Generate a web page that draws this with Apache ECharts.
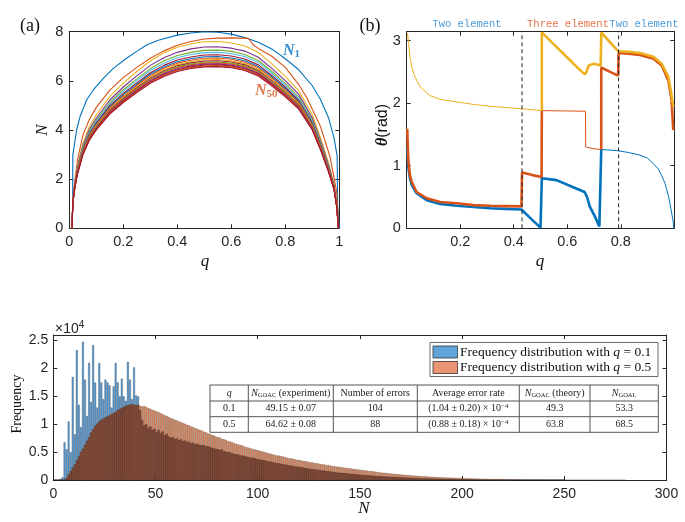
<!DOCTYPE html>
<html><head><meta charset="utf-8">
<script src="https://cdn.jsdelivr.net/npm/echarts@6.0.0/dist/echarts.min.js"></script>
<style>html,body{margin:0;padding:0;background:#fff}#c{width:685px;height:522px}</style>
</head><body><div id="c"></div><script>
// ---------- Panel (a): N(q) curves ----------
const N1q = [0.0125,0.013,0.027,0.04,0.064,0.089,0.126,0.163,0.212,0.25,0.286,0.33,0.4,0.45,0.5,0.55,0.6,0.65,0.7,0.75,0.8,0.85,0.9,0.93,0.96,0.98,0.992,0.994,1.0];
const N1v = [1.05,2.98,4.0,4.55,5.22,5.63,6.1,6.51,6.92,7.2,7.46,7.65,7.86,7.95,8.0,7.98,7.9,7.76,7.57,7.3,6.9,6.45,5.8,5.25,4.5,3.7,2.95,0.9,0];
const N2q = [0.01,0.013,0.02,0.03,0.05,0.075,0.1,0.15,0.2,0.25,0.3,0.35,0.4,0.45,0.5,0.55,0.6,0.663,0.68,0.7,0.75,0.8,0.85,0.88,0.93,0.966,0.99,0.998];
const N2v = [0,1.1,1.9,2.75,3.78,4.45,4.92,5.62,6.13,6.55,6.92,7.22,7.45,7.6,7.7,7.74,7.75,7.73,7.48,7.32,7.0,6.55,5.85,5.3,4.15,2.9,1.5,0];
const qGrid = [0.01,0.013,0.02,0.03,0.05,0.075,0.1,0.15,0.2,0.25,0.3,0.35,0.4,0.45,0.5,0.55,0.6,0.65,0.7,0.75,0.8,0.85,0.9,0.93,0.96,0.98,0.99,0.997];
const N3  = [0,1.16,1.85,2.54,3.44,4.16,4.62,5.37,5.91,6.38,6.81,7.14,7.37,7.51,7.59,7.6,7.54,7.42,7.16,6.7,6.18,5.6,4.62,3.7,2.66,1.85,1.04,0];
const N4  = [0,1.12,1.8,2.47,3.35,4.04,4.49,5.22,5.75,6.2,6.63,6.94,7.16,7.3,7.38,7.39,7.33,7.21,6.96,6.51,6.01,5.45,4.49,3.59,2.58,1.8,1.01,0];
const N5  = [0,1.1,1.76,2.42,3.28,3.97,4.41,5.12,5.64,6.08,6.5,6.81,7.03,7.16,7.24,7.25,7.2,7.07,6.83,6.39,5.9,5.34,4.41,3.53,2.53,1.76,0.99,0];
const N6  = [0,1.09,1.74,2.39,3.24,3.92,4.35,5.06,5.57,6.01,6.42,6.72,6.94,7.07,7.15,7.16,7.1,6.99,6.75,6.31,5.82,5.28,4.35,3.48,2.5,1.74,0.98,0];
const N7  = [0,1.07,1.72,2.36,3.2,3.86,4.29,4.99,5.49,5.92,6.33,6.63,6.85,6.97,7.05,7.06,7.01,6.89,6.65,6.22,5.74,5.2,4.29,3.43,2.47,1.72,0.97,0];
const N8  = [0,1.06,1.7,2.34,3.16,3.82,4.25,4.94,5.44,5.86,6.27,6.56,6.78,6.9,6.98,6.99,6.93,6.82,6.58,6.16,5.68,5.15,4.25,3.4,2.44,1.7,0.96,0];
const N10 = [0,1.05,1.68,2.32,3.14,3.79,4.21,4.9,5.39,5.81,6.21,6.51,6.72,6.84,6.92,6.93,6.88,6.76,6.53,6.11,5.63,5.11,4.21,3.37,2.42,1.68,0.95,0];
const N13 = [0,1.04,1.67,2.3,3.11,3.76,4.18,4.85,5.35,5.76,6.16,6.45,6.66,6.79,6.86,6.87,6.82,6.7,6.47,6.06,5.59,5.06,4.18,3.34,2.4,1.67,0.94,0];
const N16 = [0,1.04,1.66,2.28,3.09,3.73,4.14,4.82,5.3,5.72,6.11,6.4,6.61,6.73,6.81,6.82,6.77,6.65,6.42,6.01,5.54,5.02,4.14,3.32,2.38,1.66,0.93,0];
const N20 = [0,1.03,1.65,2.26,3.07,3.7,4.12,4.78,5.27,5.68,6.07,6.36,6.57,6.69,6.76,6.77,6.72,6.61,6.38,5.97,5.51,4.99,4.12,3.29,2.37,1.65,0.93,0];
const N25 = [0,1.02,1.64,2.25,3.05,3.68,4.09,4.76,5.24,5.65,6.04,6.32,6.53,6.65,6.72,6.73,6.68,6.57,6.34,5.93,5.47,4.96,4.09,3.27,2.35,1.64,0.92,0];
const N30 = [0,1.02,1.63,2.24,3.03,3.66,4.07,4.73,5.21,5.61,6.0,6.29,6.49,6.61,6.68,6.69,6.64,6.53,6.31,5.9,5.44,4.93,4.07,3.25,2.34,1.63,0.92,0];
const N37 = [0,1.01,1.62,2.22,3.01,3.64,4.04,4.7,5.18,5.58,5.96,6.25,6.45,6.57,6.64,6.65,6.6,6.49,6.27,5.86,5.41,4.9,4.04,3.24,2.33,1.62,0.91,0];
const N43 = [0,1.01,1.61,2.21,3.0,3.62,4.02,4.68,5.15,5.55,5.94,6.22,6.42,6.54,6.61,6.62,6.57,6.46,6.24,5.83,5.38,4.88,4.02,3.22,2.31,1.61,0.91,0];
const N50 = [0,1.0,1.6,2.2,2.98,3.6,4.0,4.65,5.12,5.52,5.9,6.18,6.38,6.5,6.57,6.58,6.53,6.42,6.2,5.8,5.35,4.85,4.0,3.2,2.3,1.6,0.9,0];

// ---------- Panel (b): theta(q) ----------
const thThinYellow = [[0.003,3.12],[0.007,2.95],[0.0125,2.73],[0.02,2.56],[0.03,2.43],[0.05,2.26],[0.087,2.12],[0.125,2.06],[0.187,2.02],[0.249,1.98],[0.311,1.95],[0.37,1.93],[0.43,1.91],[0.505,1.88]];
const thThinOrange = [[0.505,1.88],[0.6,1.875],[0.668,1.87],[0.669,1.3],[0.7,1.27],[0.727,1.26]];
const thThinBlue = [[0.727,1.26],[0.79,1.24],[0.83,1.21],[0.872,1.17],[0.9,1.12],[0.922,1.03],[0.94,0.95],[0.953,0.84],[0.965,0.72],[0.978,0.52],[0.988,0.3],[0.996,0.1],[0.998,0]];
const thThickBlue = [[0.002,1.3],[0.006,0.98],[0.012,0.8],[0.019,0.69],[0.037,0.56],[0.075,0.45],[0.125,0.39],[0.187,0.36],[0.249,0.34],[0.311,0.32],[0.37,0.31],[0.429,0.3],[0.465,0.15],[0.5,0.01],[0.505,0],[0.505,0.8],[0.56,0.77],[0.62,0.66],[0.665,0.58],[0.674,0.5],[0.684,0.35],[0.703,0.19],[0.72,0.03],[0.726,0],[0.727,1.26]];
const thThickOrangeA = [[0.002,1.59],[0.006,1.09],[0.012,0.85],[0.019,0.74],[0.037,0.58],[0.075,0.48],[0.125,0.42],[0.187,0.4],[0.249,0.37],[0.311,0.36],[0.37,0.355],[0.429,0.35],[0.431,0.89],[0.47,0.85],[0.504,0.82],[0.505,1.88]];
const thThickOrangeB = [[0.727,1.26],[0.727,2.57],[0.76,2.5],[0.79,2.44],[0.792,2.8],[0.83,2.79],[0.872,2.77],[0.922,2.71],[0.953,2.6],[0.978,2.36],[0.99,2.04],[0.996,1.57]];
const thThickYellow = [[0.505,1.88],[0.505,3.13],[0.55,2.94],[0.6,2.73],[0.64,2.56],[0.666,2.46],[0.672,2.5],[0.68,2.6],[0.7,2.63],[0.725,2.6],[0.727,2.58],[0.727,3.13],[0.76,2.97],[0.79,2.83],[0.83,2.82],[0.872,2.8],[0.922,2.74],[0.953,2.63],[0.978,2.42],[0.99,2.12],[0.996,1.94]];
const dashedQ = [0.431, 0.792];

// ---------- Histogram (counts in units of 1e4, bins of width 1 starting at N=0) ----------
const histQ01 = [
0,0,0,0.02,0.05,0.68,0.55,1.05,0.5,1.85,
0.82,2.33,1.35,0.95,2.48,1.8,1.15,2.1,1.4,2.42,
1.75,1.3,2.1,1.75,1.45,1.8,1.75,1.7,1.3,1.68,
2.1,1.75,1.5,1.82,1.5,1.42,2.12,1.8,1.45,2.02,
1.52,1.5,1.25,1.08,0.98,1.0,0.93,0.96,0.9,0.92,
0.86,0.9,0.84,0.87,0.8,0.83,0.78,0.76,0.77,0.74,
0.75,0.72,0.73,0.7,0.71,0.68,0.69,0.66,0.67,0.64,
0.65,0.63,0.62,0.63,0.6,0.61,0.59,0.58,0.57,0.56,
0.55,0.54,0.55,0.52,0.51,0.5,0.5,0.48,0.47,0.46,
0.46,0.44,0.44,0.43,0.42,0.41,0.4,0.4,0.39,0.38,
0.37,0.36,0.36,0.35,0.34,0.33,0.33,0.32,0.31,0.3,
0.3,0.29,0.28,0.28,0.27,0.26,0.26,0.25,0.24,0.24,
0.23,0.23,0.22,0.21,0.21,0.2,0.2,0.19,0.19,0.18,
0.18,0.17,0.17,0.16,0.16,0.15,0.15,0.14,0.14,0.13,
0.13,0.13,0.12,0.12,0.115,0.11,0.11,0.105,0.1,0.1,
0.095,0.09,0.09,0.085,0.085,0.08,0.078,0.075,0.072,0.07,
0.067,0.065,0.062,0.06,0.058,0.056,0.054,0.052,0.05,0.048,
0.046,0.044,0.043,0.041,0.04,0.038,0.037,0.035,0.034,0.033,
0.031,0.03,0.029,0.028,0.027,0.026,0.025,0.024,0.023,0.022,
0.021,0.02,0.019,0.018,0.018,0.017,0.016,0.015,0.015,0.014,
0.013,0.013,0.012,0.012,0.011,0.01,0.01,0.009,0.009,0.008,
0.008,0.008,0.007,0.007,0.006,0.006,0.006,0.005,0.005,0.005,
0.004,0.004,0.004,0.004,0.003,0.003,0.003,0.003,0.003,0.002,
0.002,0.002,0.002,0.002,0.002,0.002,0.002,0.002,0.002,0.002,
0.001,0.001,0.001,0.001,0.001,0.001,0.001,0.001,0.001,0.001];
const histQ05 = [
0,0,0,0,0,0.01,0.04,0.1,0.16,0.22,
0.28,0.35,0.42,0.5,0.56,0.63,0.7,0.77,0.85,0.91,
0.97,1.01,1.05,1.08,1.1,1.12,1.14,1.16,1.18,1.2,
1.22,1.25,1.27,1.29,1.31,1.33,1.34,1.35,1.36,1.35,
1.34,1.35,1.33,1.32,1.33,1.31,1.29,1.28,1.26,1.25,
1.23,1.22,1.2,1.18,1.16,1.15,1.13,1.11,1.1,1.08,
1.07,1.05,1.04,1.02,1.01,0.99,0.98,0.96,0.95,0.93,
0.92,0.9,0.89,0.87,0.86,0.84,0.83,0.81,0.8,0.78,
0.77,0.76,0.74,0.73,0.72,0.7,0.69,0.68,0.66,0.65,
0.64,0.63,0.62,0.6,0.59,0.58,0.57,0.56,0.55,0.54,
0.53,0.52,0.51,0.5,0.49,0.48,0.47,0.46,0.45,0.44,
0.44,0.43,0.42,0.41,0.4,0.39,0.39,0.38,0.37,0.36,
0.36,0.35,0.34,0.34,0.33,0.32,0.32,0.31,0.3,0.3,
0.29,0.28,0.28,0.27,0.27,0.26,0.25,0.25,0.24,0.24,
0.23,0.23,0.22,0.22,0.21,0.21,0.2,0.2,0.19,0.19,
0.18,0.18,0.17,0.17,0.16,0.16,0.155,0.15,0.145,0.14,
0.135,0.13,0.13,0.125,0.12,0.115,0.11,0.11,0.105,0.1,
0.098,0.095,0.09,0.088,0.085,0.082,0.08,0.077,0.074,0.072,
0.07,0.067,0.065,0.062,0.06,0.058,0.056,0.054,0.052,0.05,
0.048,0.046,0.045,0.043,0.042,0.04,0.039,0.037,0.036,0.035,
0.033,0.032,0.031,0.03,0.029,0.028,0.027,0.026,0.025,0.024,
0.023,0.022,0.021,0.02,0.02,0.019,0.018,0.017,0.017,0.016,
0.015,0.015,0.014,0.013,0.013,0.012,0.012,0.011,0.011,0.01,
0.01,0.009,0.009,0.009,0.008,0.008,0.007,0.007,0.007,0.006,
0.006,0.006,0.005,0.005,0.005,0.005,0.004,0.004,0.004,0.004,
0.003,0.003,0.003,0.003,0.003,0.002,0.002,0.002,0.002,0.002,
0.002,0.002,0.002,0.002,0.002,0.001,0.001,0.001,0.001,0.001,
0.001,0.001,0.001,0.001,0.001,0.001,0.001,0.001,0.001,0.001];

// ---------- Table ----------
const tableQ = ['0.1','0.5'];
const tableExp = ['49.15 ± 0.07','64.62 ± 0.08'];
const tableErrors = ['104','88'];
const tableRate = ['(1.04 ± 0.20) × 10','(0.88 ± 0.18) × 10'];
const tableTheory = ['49.3','63.8'];
const tableGoal = ['53.3','68.5'];

// ---------- Build ----------
const AX = '#262626';
const SANS = '"Liberation Sans", Arial, sans-serif';
const SERIF = '"Liberation Serif", "Times New Roman", serif';
const MONO = '"Liberation Mono", "Courier New", monospace';
const C = {blue:'#0072BD', orange:'#D95319', yellow:'#EDB120', purple:'#7E2F8E', green:'#77AC30', cyan:'#4DBEEE', red:'#A2142F'};

function axis(gi, pos, min, max, interval, showLabel, fs, extraLabel) {
  return {
    type:'value', gridIndex:gi, position:pos, min:min, max:max, interval:interval,
    axisLine:{show:true, onZero:false, lineStyle:{color:AX, width:1}},
    axisTick:{show:true, inside:true, length:4, lineStyle:{color:AX, width:1}},
    axisLabel:Object.assign({show:showLabel, color:AX, fontSize:fs, fontFamily:SANS, margin:6}, extraLabel||{}),
    splitLine:{show:false}
  };
}

const xAxes = [
  axis(0,'bottom',0,1,0.2,true,14.5),
  axis(0,'top',0,1,0.2,false,14.5),
  axis(1,'bottom',0,1,0.2,true,14.5,{showMinLabel:false, showMaxLabel:false}),
  axis(1,'top',0,1,0.2,false,14.5),
  axis(2,'bottom',0,300,50,true,14,{margin:7}),
  axis(2,'top',0,300,50,false,14)
];
const yAxes = [
  axis(0,'left',0,8,2,true,14.5),
  axis(0,'right',0,8,2,false,14.5),
  axis(1,'left',0,Math.PI,1,true,14.5,{showMaxLabel:false}),
  axis(1,'right',0,Math.PI,1,false,14.5),
  axis(2,'left',0,2.6,0.5,true,14,{showMaxLabel:false, margin:5}),
  axis(2,'right',0,2.6,0.5,false,14)
];

const zip = (qs, vs) => qs.map((q,i)=>[q, vs[i]]);
const curves = [
  [N1q,N1v,C.blue],[N2q,N2v,C.orange],[qGrid,N3,C.yellow],[qGrid,N4,C.purple],[qGrid,N5,C.green],
  [qGrid,N6,C.cyan],[qGrid,N7,C.red],[qGrid,N8,C.blue],[qGrid,N10,C.orange],[qGrid,N13,C.yellow],
  [qGrid,N16,C.red],[qGrid,N20,C.green],[qGrid,N25,C.orange],[qGrid,N30,C.purple],[qGrid,N37,C.red],
  [qGrid,N43,C.orange],[qGrid,N50,C.red]
];
const series = [];
curves.forEach(c => series.push({type:'line', xAxisIndex:0, yAxisIndex:0, data:zip(c[0],c[1]), showSymbol:false, silent:true, lineStyle:{color:c[2], width:1.1}}));

function thLine(d, color, w) {
  series.push({type:'line', xAxisIndex:2, yAxisIndex:2, data:d, showSymbol:false, silent:true, lineStyle:{color:color, width:w}});
}
thLine(thThinYellow, C.yellow, 1);
thLine(thThinOrange, C.orange, 1);
thLine(thThinBlue, C.blue, 1);
thLine(thThickBlue, C.blue, 2.6);
thLine(thThickOrangeA, C.orange, 2.6);
thLine(thThickOrangeB, C.orange, 2.6);
thLine(thThickYellow, C.yellow, 2.6);
dashedQ.forEach(q => series.push({type:'line', xAxisIndex:2, yAxisIndex:2, data:[[q,0],[q,Math.PI]], showSymbol:false, silent:true, z:5, lineStyle:{color:'#222', width:1, type:[4,3]}}));

const BW = 613.2/300;
const bins = (arr) => arr.map((v,i)=>[i+0.5, v]);
const overlap = histQ01.map((v,i)=> Math.min(v, histQ05[i] || 0));
const barBase = {type:'bar', xAxisIndex:4, yAxisIndex:4, barWidth:BW, barGap:'-100%', silent:true};
series.push(Object.assign({}, barBase, {data:bins(histQ01), itemStyle:{color:'#5A9BD2', borderColor:'rgba(25,35,50,0.55)', borderWidth:0.45}}));
series.push(Object.assign({}, barBase, {data:bins(histQ05), itemStyle:{color:'#DC8B64', borderColor:'rgba(50,25,15,0.5)', borderWidth:0.45}}));
series.push(Object.assign({}, barBase, {data:bins(overlap), itemStyle:{color:'#8C4E3A', borderColor:'rgba(40,15,8,0.55)', borderWidth:0.45}}));

// graphic
const G = [];
function txt(x, y, text, font, fill, align, valign, extra) {
  G.push(Object.assign({type:'text', x:x, y:y, z:100, silent:true, style:{text:text, font:font, fill:fill||'#000', textAlign:align||'center', textVerticalAlign:valign||'middle'}}, extra||{}));
}
txt(30, 26, '(a)', '18px '+SERIF, '#111');
txt(370, 26, '(b)', '18px '+SERIF, '#111');
txt(205, 262, 'q', 'italic 17px '+SERIF, '#111');
txt(540, 262, 'q', 'italic 17px '+SERIF, '#111');
txt(43, 130, 'N', 'italic 17px '+SERIF, '#111', 'center', 'middle', {rotation:Math.PI/2});
G.push({type:'text', x:383, y:125, z:100, rotation:Math.PI/2, silent:true, style:{text:'{t|θ}(rad)', font:'16px '+SANS, fill:'#111', textAlign:'center', textVerticalAlign:'middle', rich:{t:{font:'italic bold 16px '+SERIF, fill:'#111'}}}});
G.push({type:'text', x:283, y:51, z:100, silent:true, style:{text:'{n|N}{s|1}', textAlign:'left', textVerticalAlign:'middle', rich:{n:{font:'italic bold 16px '+SERIF, fill:'#3A8ED0'}, s:{font:'bold 11px '+SERIF, fill:'#3A8ED0', verticalAlign:'bottom', padding:[6,0,0,0]}}}});
G.push({type:'text', x:255, y:91, z:100, silent:true, style:{text:'{n|N}{s|50}', textAlign:'left', textVerticalAlign:'middle', rich:{n:{font:'italic bold 16px '+SERIF, fill:'#E07A4C'}, s:{font:'bold 11px '+SERIF, fill:'#E07A4C', verticalAlign:'bottom', padding:[6,0,0,0]}}}});
txt(467, 24, 'Two element', '10.5px '+MONO, '#4A9AD8');
txt(568, 24, 'Three element', '10.5px '+MONO, '#E5744A');
txt(644, 24, 'Two element', '10.5px '+MONO, '#4A9AD8');
// histogram labels
txt(17, 404, 'Frequency', '14px '+SERIF, '#111', 'center', 'middle', {rotation:Math.PI/2});
txt(364, 509, 'N', 'italic 17px '+SERIF, '#111');
G.push({type:'text', x:55, y:329, z:100, silent:true, style:{text:'×10{s|4}', font:'14px '+SANS, fill:AX, textAlign:'left', textVerticalAlign:'middle', rich:{s:{font:'10px '+SANS, fill:AX, verticalAlign:'top', padding:[0,0,7,0]}}}});

// legend
G.push({type:'rect', z:100, silent:true, shape:{x:430, y:342.5, width:228, height:34}, style:{fill:'#fff', stroke:'#444', lineWidth:0.8}});
G.push({type:'rect', z:101, silent:true, shape:{x:433, y:346, width:24.5, height:12}, style:{fill:'#5FA5DA', stroke:'#333', lineWidth:0.8}});
G.push({type:'rect', z:101, silent:true, shape:{x:433, y:361.5, width:24.5, height:12}, style:{fill:'#E99472', stroke:'#333', lineWidth:0.8}});
G.push({type:'text', x:460, y:352, z:101, silent:true, style:{text:'Frequency distribution with {i|q} = 0.1', font:'13.5px '+SERIF, fill:'#111', textAlign:'left', textVerticalAlign:'middle', rich:{i:{font:'italic 13.5px '+SERIF, fill:'#111'}}}});
G.push({type:'text', x:460, y:367.5, z:101, silent:true, style:{text:'Frequency distribution with {i|q} = 0.5', font:'13.5px '+SERIF, fill:'#111', textAlign:'left', textVerticalAlign:'middle', rich:{i:{font:'italic 13.5px '+SERIF, fill:'#111'}}}});

// table
const colX = [210, 248.3, 333.3, 417.3, 519.3, 590, 658.3];
const rowY = [385, 401, 416.7, 432.3];
G.push({type:'rect', z:100, silent:true, shape:{x:colX[0], y:rowY[0], width:colX[6]-colX[0], height:rowY[3]-rowY[0]}, style:{fill:'#fff', stroke:'#555', lineWidth:1}});
for (let i=1;i<6;i++) G.push({type:'line', z:101, silent:true, shape:{x1:colX[i], y1:rowY[0], x2:colX[i], y2:rowY[3]}, style:{stroke:'#555', lineWidth:1}});
for (let j=1;j<3;j++) G.push({type:'line', z:101, silent:true, shape:{x1:colX[0], y1:rowY[j], x2:colX[6], y2:rowY[j]}, style:{stroke:'#555', lineWidth:1}});
const TF = '10px '+SERIF;
const cx = i => (colX[i]+colX[i+1])/2;
const cy = j => (rowY[j]+rowY[j+1])/2;
const richT = {i:{font:'italic 10px '+SERIF, fill:'#222'}, s:{font:'6.5px '+SERIF, fill:'#222', verticalAlign:'bottom', padding:[4,0,0,0]}, p:{font:'7px '+SERIF, fill:'#222', verticalAlign:'top', padding:[0,0,5,0]}};
function ttxt(i, j, text) { G.push({type:'text', z:102, x:cx(i), y:cy(j), silent:true, style:{text:text, font:TF, fill:'#222', textAlign:'center', textVerticalAlign:'middle', rich:richT}}); }
ttxt(0,0,'{i|q}');
ttxt(1,0,'{i|N}{s|GOAC} (experiment)');
ttxt(2,0,'Number of errors');
ttxt(3,0,'Average error rate');
ttxt(4,0,'{i|N}{s|GOAC} (theory)');
ttxt(5,0,'{i|N}{s|GOAL}');
for (let r=0;r<2;r++) {
  ttxt(0,r+1,tableQ[r]); ttxt(1,r+1,tableExp[r]); ttxt(2,r+1,tableErrors[r]);
  ttxt(3,r+1,tableRate[r]+'{p|−4}'); ttxt(4,r+1,tableTheory[r]); ttxt(5,r+1,tableGoal[r]);
}

const chart = echarts.init(document.getElementById('c'), null, {renderer:'canvas'});
chart.setOption({
  animation:false,
  backgroundColor:'#fff',
  grid:[
    {left:69.3, top:31.7, width:270, height:196.6},
    {left:406.7, top:31.7, width:267.6, height:196.6},
    {left:53.3, top:335, width:613.2, height:145}
  ],
  xAxis:xAxes, yAxis:yAxes, series:series, graphic:{elements:G}
});
</script></body></html>
